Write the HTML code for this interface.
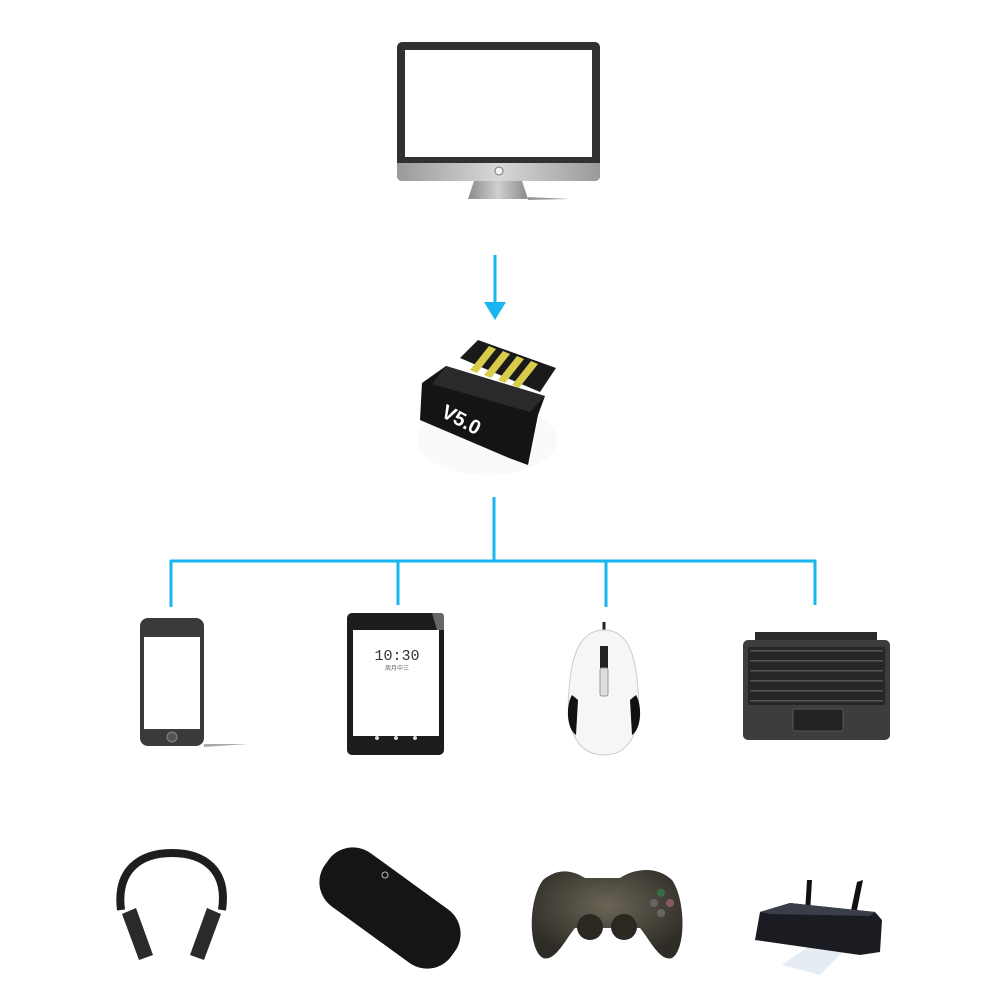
<!DOCTYPE html>
<html><head><meta charset="utf-8"><style>html,body{margin:0;padding:0;background:#fff}svg{display:block}</style></head>
<body>
<svg width="1002" height="1002" viewBox="0 0 1002 1002" xmlns="http://www.w3.org/2000/svg" font-family="Liberation Sans, sans-serif">
<defs>
<linearGradient id="chin" x1="0" x2="1"><stop offset="0" stop-color="#9a9a9a"/><stop offset=".5" stop-color="#d8d8d8"/><stop offset="1" stop-color="#9a9a9a"/></linearGradient>
<linearGradient id="stand" x1="0" x2="1"><stop offset="0" stop-color="#8a8a8a"/><stop offset=".5" stop-color="#cfcfcf"/><stop offset="1" stop-color="#8a8a8a"/></linearGradient>
<radialGradient id="pad" cx=".5" cy=".4" r=".6"><stop offset="0" stop-color="#6a6556"/><stop offset="1" stop-color="#2e2c26"/></radialGradient>
</defs>
<!-- Monitor -->
<rect x="397" y="42" width="203" height="139" rx="5" fill="#2f3133"/>
<rect x="405" y="50" width="187" height="107" fill="#fff"/>
<path d="M397 163 H600 V176 a5 5 0 0 1 -5 5 H402 a5 5 0 0 1 -5 -5 Z" fill="url(#chin)"/>
<circle cx="499" cy="171" r="4" fill="#f4f4f4" stroke="#777"/>
<path d="M474 181 H522 L528 199 H468 Z" fill="url(#stand)"/>
<path d="M528 197 L570 199 L528 200 Z" fill="#999"/>
<!-- arrow -->
<line x1="495" y1="255" x2="495" y2="303" stroke="#17b6f0" stroke-width="3"/>
<path d="M484 302 H506 L495 320 Z" fill="#17b6f0"/>
<!-- Adapter -->
<ellipse cx="487" cy="440" rx="70" ry="35" fill="#f6f6f6" opacity=".5"/>
<path d="M460 358 L478 340 L556 368 L540 392 Z" fill="#1a1a1a"/>
<g fill="#d9cc4a">
<path d="M470 370 L489 346 L496 349 L477 373 Z"/>
<path d="M484 375 L503 351 L510 354 L491 378 Z"/>
<path d="M498 380 L517 356 L524 359 L505 383 Z"/>
<path d="M512 385 L531 361 L538 364 L519 388 Z"/>
</g>
<path d="M422 383 L446 366 L545 396 L538 415 L528 465 L509 458 L420 420 Z" fill="#141414"/>
<path d="M446 366 L545 396 L530 412 L432 384 Z" fill="#2a2a2a"/>
<text x="0" y="0" transform="translate(440,416) rotate(28)" fill="#fff" font-size="20" font-weight="bold">V5.0</text>
<!-- tree -->
<g stroke="#17b6f0" stroke-width="3" fill="none">
<line x1="494" y1="497" x2="494" y2="561"/>
<line x1="170" y1="561" x2="816" y2="561"/>
<line x1="171" y1="560" x2="171" y2="607"/>
<line x1="398" y1="560" x2="398" y2="605"/>
<line x1="606" y1="560" x2="606" y2="607"/>
<line x1="815" y1="560" x2="815" y2="605"/>
</g>
<!-- phone -->
<rect x="140" y="618" width="64" height="128" rx="8" fill="#3a3a3c"/>
<rect x="144" y="637" width="56" height="92" fill="#fff"/>
<circle cx="172" cy="737" r="5" fill="#555" stroke="#888"/>
<path d="M204 744 L248 744 L204 747 Z" fill="#aaa"/>
<!-- tablet -->
<rect x="347" y="613" width="97" height="142" rx="5" fill="#1c1c1c"/>
<path d="M432 613 H441 a3 3 0 0 1 3 3 V630 H437 Z" fill="#666"/>
<rect x="353" y="630" width="86" height="106" fill="#fff"/>
<text x="397" y="660" fill="#333" font-size="15" text-anchor="middle" font-family="Liberation Mono, monospace">10:30</text>
<text x="397" y="670" fill="#666" font-size="6" text-anchor="middle" font-family="Noto Sans CJK SC, sans-serif">周月中三</text>
<circle cx="377" cy="738" r="2" fill="#ddd"/><circle cx="396" cy="738" r="2" fill="#ddd"/><circle cx="415" cy="738" r="2" fill="#ddd"/>
<!-- mouse -->
<path d="M604 622 L604 632" stroke="#222" stroke-width="3"/>
<path d="M604 630 C630 630 636 660 638 690 C641 720 636 755 604 755 C572 755 566 720 569 690 C571 660 578 630 604 630 Z" fill="#f6f6f6" stroke="#ccc"/>
<path d="M572 695 C566 705 566 728 576 735 L578 700 Z" fill="#111"/>
<path d="M636 695 C642 705 642 728 632 735 L630 700 Z" fill="#111"/>
<rect x="600" y="646" width="8" height="22" fill="#222"/>
<rect x="600" y="668" width="8" height="28" rx="2" fill="#ddd" stroke="#999"/>
<!-- keyboard -->
<rect x="755" y="632" width="122" height="10" fill="#2a2a2a"/>
<rect x="743" y="640" width="147" height="100" rx="5" fill="#3d3d3d"/>
<rect x="748" y="647" width="137" height="58" fill="#262626"/>
<g fill="#555">
<rect x="750" y="650" width="133" height="1.5"/><rect x="750" y="660" width="133" height="1.5"/><rect x="750" y="670" width="133" height="1.5"/><rect x="750" y="680" width="133" height="1.5"/><rect x="750" y="690" width="133" height="1.5"/><rect x="750" y="700" width="133" height="1.5"/>
</g>
<rect x="793" y="709" width="50" height="22" rx="2" fill="#222" stroke="#555"/>
<!-- headphones -->
<path d="M121 910 C116 870 140 853 172 853 C204 853 228 870 222 910" fill="none" stroke="#1e1e1e" stroke-width="8"/>
<path d="M122 914 L136 908 L153 955 L139 960 Z" fill="#2a2a2a"/>
<path d="M221 914 L207 908 L190 955 L204 960 Z" fill="#2a2a2a"/>
<!-- speaker -->
<g transform="translate(390,908) rotate(36)">
<rect x="-78" y="-33" width="156" height="66" rx="30" fill="#151515"/>
</g>
<circle cx="385" cy="875" r="3" fill="none" stroke="#bbb"/>
<!-- gamepad -->
<path d="M543 880 C560 866 575 872 585 878 L620 878 C632 870 655 864 672 880 C686 900 686 950 672 958 C660 962 650 940 640 928 L575 928 C565 940 555 962 543 958 C528 950 528 900 543 880 Z" fill="url(#pad)"/>
<circle cx="590" cy="927" r="13" fill="#2a2820"/><circle cx="624" cy="927" r="13" fill="#2a2820"/>
<circle cx="661" cy="893" r="4" fill="#3b6b45"/><circle cx="670" cy="903" r="4" fill="#8a5a60"/><circle cx="654" cy="903" r="4" fill="#666"/><circle cx="661" cy="913" r="4" fill="#666"/>
<!-- printer -->
<path d="M825 935 L850 945 L820 975 L782 965 Z" fill="#e6ecf4"/>
<path d="M857 882 L863 880 L856 915 L850 915 Z" fill="#111"/>
<path d="M807 880 L812 880 L810 913 L805 913 Z" fill="#111"/>
<path d="M760 912 L790 903 L875 912 L882 920 L880 952 L860 955 L755 940 Z" fill="#1a1c22"/>
<path d="M760 912 L790 903 L875 912 L870 916 L770 914 Z" fill="#3a3e48"/>
</svg>
</body></html>
